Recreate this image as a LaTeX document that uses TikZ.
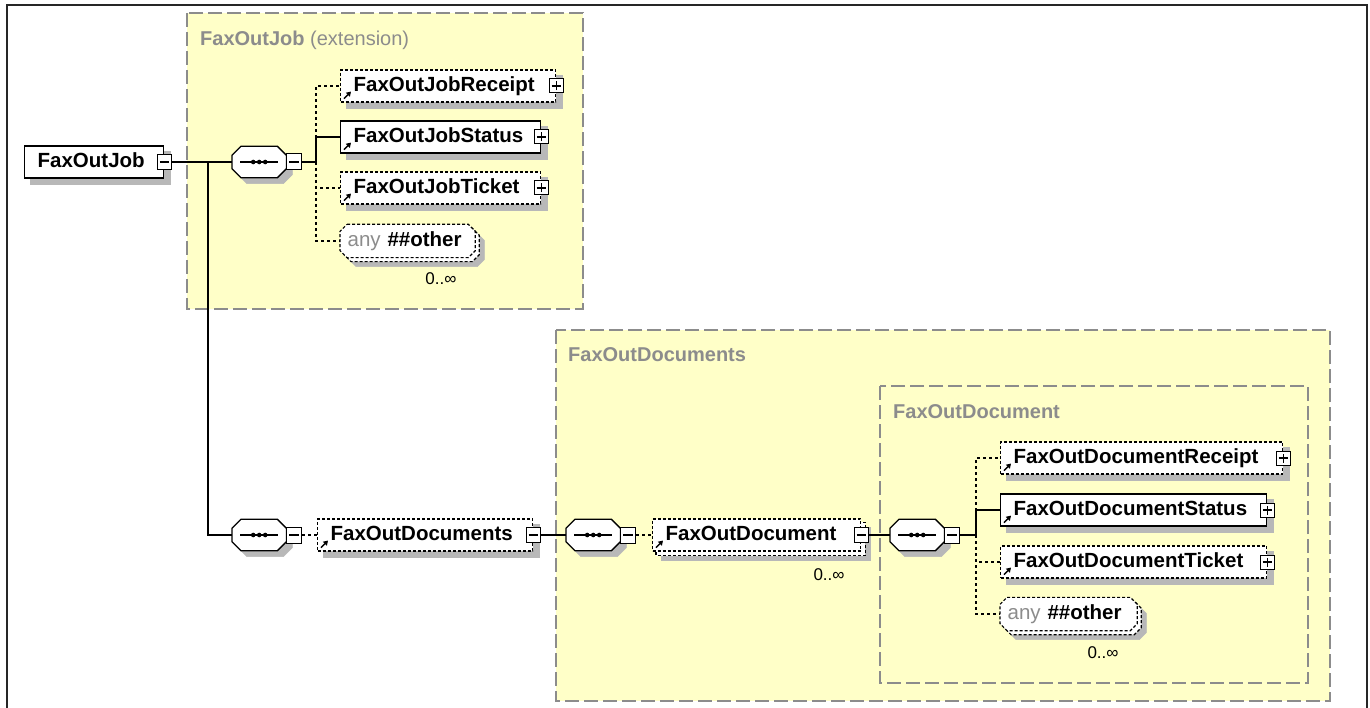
\documentclass[tikz,border=0pt]{standalone}
\usepackage{fontspec}
\setmainfont{Liberation Sans}
\usetikzlibrary{calc,arrows.meta}
\definecolor{zonefill}{RGB}{255,255,200}
\definecolor{zonegray}{RGB}{140,140,140}
\definecolor{shadowc}{gray}{0.72}
\newcommand\elemfont{\fontsize{20.5}{24}\selectfont\bfseries}
\newcommand\titlefont{\fontsize{20}{24}\selectfont\bfseries}
\newcommand\occfont{\fontsize{17}{20}\selectfont}
\newcommand\anytext{{\mdseries\color{zonegray}any}\ \#\#other}
\pgfdeclarelayer{zones}
\pgfdeclarelayer{shadows}
\pgfdeclarelayer{shapes}
\pgfsetlayers{zones,shadows,shapes,main}
% octagon round a named node: [style]{node}{chamfer}{dx}{dy}
\newcommand\octo[5][]{%
  \path[#1] ($(#2.north west)+(#3+#4,#5)$) -- ($(#2.north east)+(-#3+#4,#5)$) -- ($(#2.north east)+(#4,#3+#5)$)
    -- ($(#2.south east)+(#4,-#3+#5)$) -- ($(#2.south east)+(-#3+#4,#5)$) -- ($(#2.south west)+(#3+#4,#5)$)
    -- ($(#2.south west)+(#4,-#3+#5)$) -- ($(#2.north west)+(#4,#3+#5)$) -- cycle;}
% rectangle round a named node, shifted: [style]{node}{dx}{dy}
\newcommand\rectat[4][]{%
  \path[#1] ($(#2.north west)+(#3,#4)$) rectangle ($(#2.south east)+(#3,#4)$);}
\newcommand\elicon[1]{\draw[line width=1.5pt,-{Triangle[length=4.5pt,width=5.5pt]}] ($(#1.south west)+(4,-4)$) -- ($(#1.south west)+(11,-11)$);}
\begin{document}
\begin{tikzpicture}[x=1pt,y=-1pt,
  zone/.style={draw=zonegray, fill=zonefill, line width=1.5pt, dash pattern=on 14pt off 5pt},
  ztitle/.style={anchor=base west, text=zonegray, font=\titlefont, inner sep=0pt},
  elem/.style={draw, fill=white, line width=1.3pt, minimum height=32pt, inner xsep=13pt, inner ysep=0pt, anchor=west, align=left, font=\elemfont, text height=15pt, text depth=4pt},
  opt/.style={dash pattern=on 3pt off 2pt, line width=1.2pt},
  anybox/.style={elem, draw=none, fill=none, inner xsep=7pt},
  compbox/.style={minimum width=54pt, minimum height=31pt, inner sep=0pt, anchor=west},
  pbox/.style={draw, fill=white, line width=1pt, minimum width=14pt, minimum height=14pt, inner sep=0pt,
    path picture={\draw[line width=1.2pt] ([xshift=2.5pt]path picture bounding box.west) -- ([xshift=-2.5pt]path picture bounding box.east);
      \draw[line width=1.2pt] ([yshift=2.5pt]path picture bounding box.south) -- ([yshift=-2.5pt]path picture bounding box.north);}},
  mbox/.style={draw, fill=white, line width=1pt, minimum width=14pt, minimum height=15pt, inner sep=0pt,
    path picture={\draw[line width=1.2pt] ([xshift=2.5pt]path picture bounding box.west) -- ([xshift=-2.5pt]path picture bounding box.east);}},
  cmbox/.style={mbox, minimum width=15pt, minimum height=16pt, anchor=west},
  conn/.style={line width=1.5pt},
  optline/.style={line width=1.2pt, dash pattern=on 3pt off 3pt},
  occ/.style={font=\occfont, anchor=base, inner sep=0pt},
  octfill/.style={draw, fill=white, line width=1.3pt},
  shadowpath/.style={draw=shadowc, fill=shadowc, line width=0.5pt}
]
\useasboundingbox (0,0) rectangle (1370,708);
\begin{pgfonlayer}{zones}
\fill[white] (0,0) rectangle (1370,708);
\draw[line width=2pt, black!85] (7,5) rectangle (1367,720);
\draw[zone] (187,13) rectangle (583,309);
\draw[zone] (556,330) rectangle (1330,701);
\draw[zone] (880,386) rectangle (1308,683);
\end{pgfonlayer}
\node[ztitle] (t1) at (200,46) {FaxOutJob {\mdseries(extension)}};
\node[ztitle] (t2) at (568,362) {FaxOutDocuments};
\node[ztitle] (t3) at (893,418) {FaxOutDocument};

% root element
\node[elem, minimum width=139pt, text width=113pt] (job) at (24,162) {FaxOutJob};
\node[mbox] (jobm) at (job.east) {};

% compositor 1
\node[compbox] (c1) at (232,162) {};
\node[cmbox] (c1m) at (c1.east) {};
\coordinate (v1) at (316,162);

% FaxOutJob children
\node[elem, opt, minimum width=215pt, text width=189pt] (rcpt) at (340,86) {FaxOutJobReceipt};
\node[pbox] (rcptp) at (rcpt.east) {};
\node[elem, minimum width=200pt, text width=174pt] (stat) at (340,137) {FaxOutJobStatus};
\node[pbox] (statp) at (stat.east) {};
\node[elem, opt, minimum width=200pt, text width=174pt] (tick) at (340,188) {FaxOutJobTicket};
\node[pbox] (tickp) at (tick.east) {};
\node[anybox, minimum width=134pt, text width=120pt] (any1) at (340,241) {\anytext};
\node[occ] (o1) at (441,285) {0..∞};

% compositor 2 and bottom row
\node[compbox] (c2) at (232,535) {};
\node[cmbox] (c2m) at (c2.east) {};
\node[elem, opt, minimum width=215pt, text width=189pt] (docs) at (317,535) {FaxOutDocuments};
\node[mbox] (docsm) at (docs.east) {};
\node[compbox] (c3) at (566,535) {};
\node[cmbox] (c3m) at (c3.east) {};
\node[elem, opt, minimum width=208pt, text width=182pt] (doc) at (652,535) {FaxOutDocument};
\node[mbox] (docm) at (doc.east) {};
\node[occ] (o2) at (829,580) {0..∞};
\node[compbox] (c4) at (890,535) {};
\node[cmbox] (c4m) at (c4.east) {};
\coordinate (v4) at (976,535);

% FaxOutDocument children
\node[elem, opt, minimum width=282pt, text width=256pt] (drcpt) at (1000,458) {FaxOutDocumentReceipt};
\node[pbox] (drcptp) at (drcpt.east) {};
\node[elem, minimum width=266pt, text width=240pt] (dstat) at (1000,510) {FaxOutDocumentStatus};
\node[pbox] (dstatp) at (dstat.east) {};
\node[elem, opt, minimum width=266pt, text width=240pt] (dtick) at (1000,562) {FaxOutDocumentTicket};
\node[pbox] (dtickp) at (dtick.east) {};
\node[anybox, minimum width=136pt, text width=122pt] (any2) at (1000,614) {\anytext};
\node[occ] (o3) at (1103,658) {0..∞};

% shadows (lowest content layer)
\begin{pgfonlayer}{shadows}
\rectat[shadowpath]{job}{6}{6}
\rectat[shadowpath]{rcpt}{6}{6}
\rectat[shadowpath]{stat}{6}{6}
\rectat[shadowpath]{tick}{6}{6}
\rectat[shadowpath]{docs}{6}{6}
\rectat[shadowpath]{drcpt}{6}{6}
\rectat[shadowpath]{dstat}{6}{6}
\rectat[shadowpath]{dtick}{6}{6}
\rectat[shadowpath]{doc}{9}{9}
\octo[shadowpath]{c1}{9}{6}{6}
\octo[shadowpath]{c2}{9}{6}{6}
\octo[shadowpath]{c3}{9}{6}{6}
\octo[shadowpath]{c4}{9}{6}{6}
\octo[shadowpath]{any1}{7}{9}{9}
\octo[shadowpath]{any2}{7}{9}{9}
\end{pgfonlayer}

% shapes (under the nodes)
\begin{pgfonlayer}{shapes}
\rectat[opt, draw, fill=white]{doc}{4}{4}
\foreach \c in {c1,c2,c3,c4} {\octo[octfill]{\c}{9}{0}{0}}
\foreach \a in {any1,any2} {
  \octo[octfill, opt]{\a}{7}{4}{4}
  \octo[octfill, opt]{\a}{7}{0}{0}}
\end{pgfonlayer}

% sequence symbols
\foreach \c in {c1,c2,c3,c4}{
  \draw[line width=1.3pt] ($(\c.west)+(8,0)$) -- ($(\c.east)+(-8,0)$);
  \foreach \dx in {-6,0,6} \fill ($(\c.center)+(\dx,0)$) circle (2.3pt);
}

% icons
\foreach \n in {rcpt,stat,tick,docs,doc,drcpt,dstat,dtick} {\elicon{\n}}

% connectors
\coordinate (j1) at (208,162);
\draw[conn] (jobm.east) -- (c1.west);
\draw[conn] (j1) |- (c2.west);
\draw[conn] (c1m.east) -- (v1);
\draw[optline] (v1) |- (rcpt.west);
\draw[optline] (v1) |- (tick.west);
\draw[optline] (v1) |- (any1.west);
\draw[conn] (v1) |- (stat.west);

\draw[optline] (c2m.east) -- (docs.west);
\draw[conn] (docsm.east) -- (c3.west);
\draw[optline] (c3m.east) -- (doc.west);
\draw[conn] (docm.east) -- (c4.west);
\draw[conn] (c4m.east) -- (v4);
\draw[optline] (v4) |- (drcpt.west);
\draw[optline] (v4) |- (dtick.west);
\draw[optline] (v4) |- (any2.west);
\draw[conn] (v4) |- (dstat.west);
\end{tikzpicture}
\end{document}
